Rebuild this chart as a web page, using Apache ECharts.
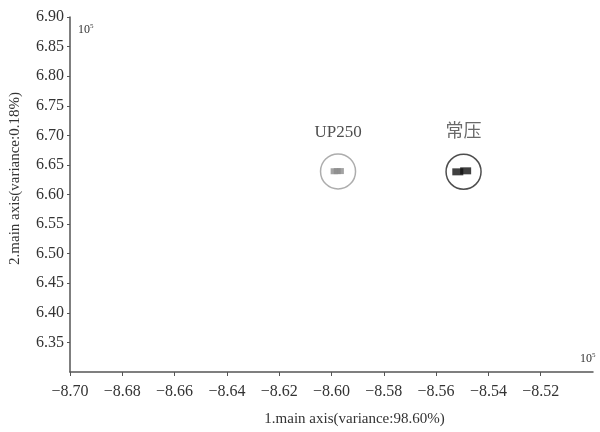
<!DOCTYPE html>
<html><head><meta charset="utf-8">
<script src="https://cdn.jsdelivr.net/npm/echarts@6/dist/echarts.min.js"></script>
<style>html,body{margin:0;padding:0;background:#fff}#c{width:600px;height:432px}</style>
</head><body><div id="c"></div>
<script>
// Group names
var groups = ['UP250', '常压'];
// Group centroids (x: 1st main axis ×10^5, y: 2nd main axis ×10^5)
var centroidX = [-8.5975, -8.5495];
var centroidY = [6.6390, 6.6385];
// Replicate sample scores
var up250X = [-8.5990, -8.5978, -8.5966];
var up250Y = [6.6393, 6.6395, 6.6396];
var cyX = [-8.5517, -8.5487];
var cyY = [6.6383, 6.6400];
// Tick labels
var xTicks = [-8.70, -8.68, -8.66, -8.64, -8.62, -8.60, -8.58, -8.56, -8.54, -8.52];
var yTicks = [6.35, 6.40, 6.45, 6.50, 6.55, 6.60, 6.65, 6.70, 6.75, 6.80, 6.85, 6.90];
var xName = '1.main axis(variance:98.60%)';
var yName = '2.main axis(variance:0.18%)';

var serif = '"Liberation Serif","DejaVu Serif",serif';
function fmt(v){ var s = Math.abs(v).toFixed(2); return (v < 0 ? '\u2212' : '') + s; }
function pairs(xs, ys){ return xs.map(function(x,i){ return [x, ys[i]]; }); }

var chart = echarts.init(document.getElementById('c'));
chart.setOption({
  animation: false,
  grid: {left: 70, right: 7, top: 17, bottom: 60, containLabel: false, outerBoundsMode: 'none'},
  xAxis: {
    type: 'value', min: -8.70, max: -8.50,
    axisLine: {show: true, onZero: false, lineStyle: {color: '#555', width: 1.5}},
    axisTick: {show: true, length: 4, customValues: xTicks, lineStyle: {color: '#555'}},
    axisLabel: {customValues: xTicks, formatter: fmt, fontFamily: serif, fontSize: 16, color: '#333', margin: 12},
    splitLine: {show: false},
    name: xName, nameLocation: 'middle', nameGap: 40,
    nameTextStyle: {fontFamily: serif, fontSize: 15, color: '#333', padding: [0, 0, 0, 46]}
  },
  yAxis: {
    type: 'value', min: 6.30, max: 6.90,
    axisLine: {show: true, onZero: false, lineStyle: {color: '#555', width: 1.5}},
    axisTick: {show: true, length: 3, customValues: yTicks, lineStyle: {color: '#555'}},
    axisLabel: {customValues: yTicks, formatter: function(v){return v.toFixed(2);}, fontFamily: serif, fontSize: 16, color: '#333', margin: 6},
    splitLine: {show: false},
    name: yName, nameLocation: 'middle', nameGap: 47, nameRotate: 90,
    nameTextStyle: {fontFamily: serif, fontSize: 15, color: '#333', padding: [0, 0, 0, 32]}
  },
  graphic: [
    {type: 'text', left: 78, top: 23, style: {text: '{a|10}{b|5}', rich: {a: {fontFamily: serif, fontSize: 12, fill: '#333'}, b: {fontFamily: serif, fontSize: 7, fill: '#333', verticalAlign: 'top', padding: [0,0,6,0]}}}},
    {type: 'text', left: 580, top: 352, style: {text: '{a|10}{b|5}', rich: {a: {fontFamily: serif, fontSize: 12, fill: '#333'}, b: {fontFamily: serif, fontSize: 7, fill: '#333', verticalAlign: 'top', padding: [0,0,6,0]}}}}
  ],
  series: [
    {
      type: 'scatter', name: 'ellipse',
      data: [
        {value: [centroidX[0], centroidY[0]], itemStyle: {borderColor: '#999'}, label: {color: '#222', fontSize: 17}},
        {value: [centroidX[1], centroidY[1]], itemStyle: {borderColor: '#222'}, label: {color: '#444', fontSize: 18}}
      ],
      symbol: 'circle', symbolSize: 35,
      itemStyle: {color: 'rgba(0,0,0,0)', borderWidth: 1.5},
      label: {show: true, position: 'top', distance: 12, fontFamily: '"Liberation Serif","Noto Sans CJK SC",serif',
        formatter: function(p){ return groups[p.dataIndex]; }},
      z: 2
    },
    {
      type: 'scatter', name: groups[0], data: pairs(up250X, up250Y),
      symbol: 'rect', symbolSize: [7, 6], itemStyle: {color: '#8c8c8c'}, z: 3
    },
    {
      type: 'scatter', name: groups[1], data: pairs(cyX, cyY),
      symbol: 'rect', symbolSize: [11, 7], itemStyle: {color: '#111'}, z: 3
    }
  ]
});
</script></body></html>
